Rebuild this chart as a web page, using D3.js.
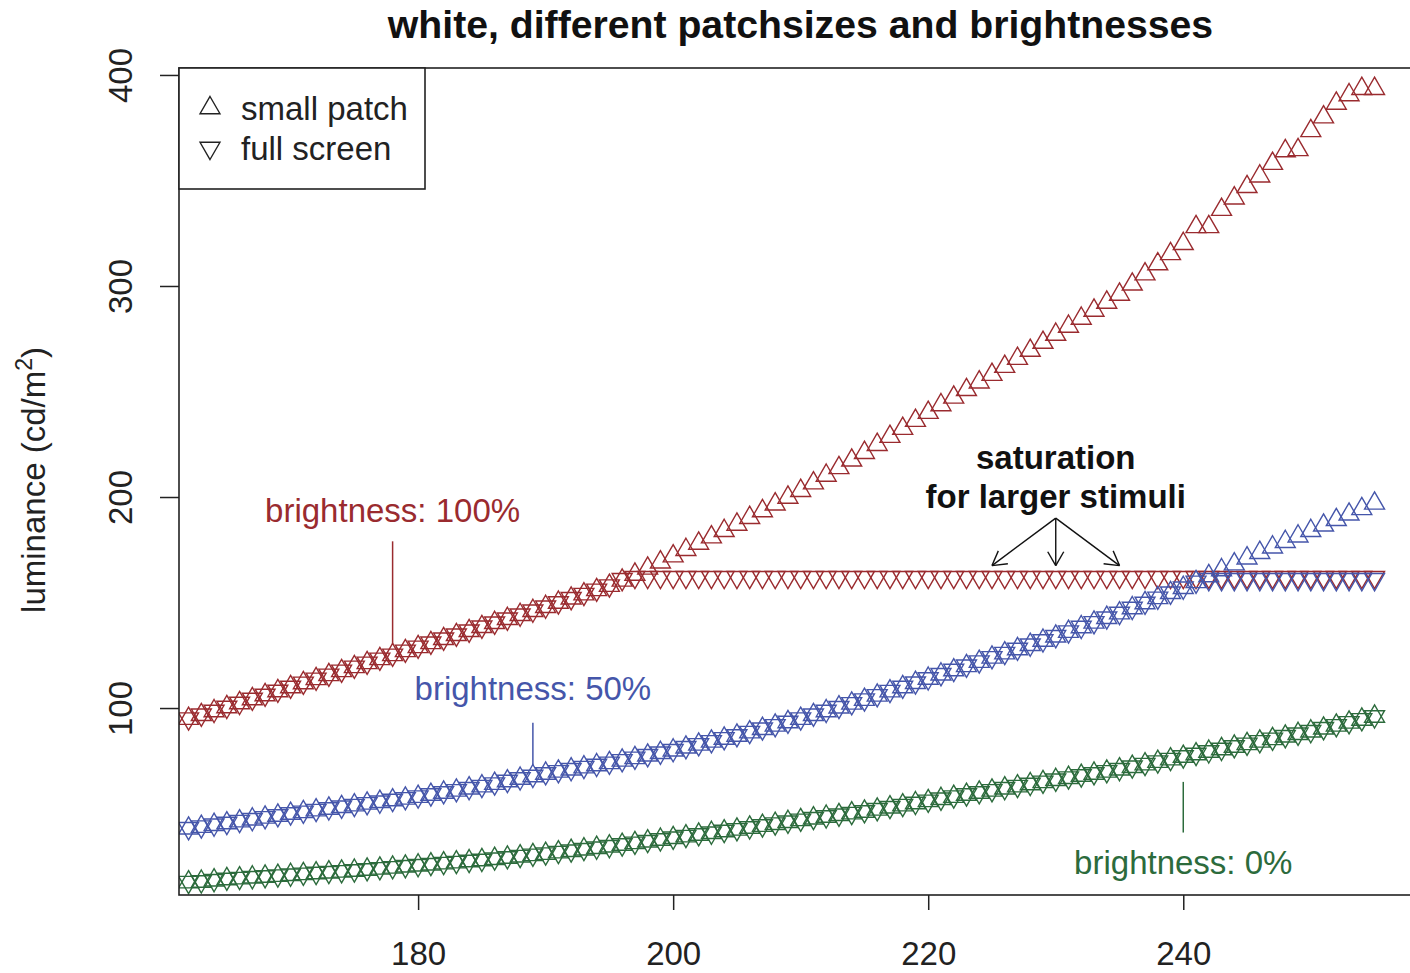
<!DOCTYPE html>
<html>
<head>
<meta charset="utf-8">
<script src="https://cdn.jsdelivr.net/npm/d3@7"></script>
<style>
  html, body { margin: 0; padding: 0; background: #fff; overflow: hidden; }
  text { font-family: "Liberation Sans", Arial, Helvetica, sans-serif; }
</style>
</head>
<body>
<svg id="chart" width="1410" height="973"></svg>
<script>
// Digital driving level of the white patch
const levels = [
  162, 163, 164, 165, 166, 167, 168, 169, 170, 171,
  172, 173, 174, 175, 176, 177, 178, 179, 180, 181,
  182, 183, 184, 185, 186, 187, 188, 189, 190, 191,
  192, 193, 194, 195, 196, 197, 198, 199, 200, 201,
  202, 203, 204, 205, 206, 207, 208, 209, 210, 211,
  212, 213, 214, 215, 216, 217, 218, 219, 220, 221,
  222, 223, 224, 225, 226, 227, 228, 229, 230, 231,
  232, 233, 234, 235, 236, 237, 238, 239, 240, 241,
  242, 243, 244, 245, 246, 247, 248, 249, 250, 251,
  252, 253, 254, 255
];

// Luminance (cd/m^2), brightness 100%
const red100Small = [
  95.0, 96.8, 98.6, 100.5, 102.4, 104.3, 106.2, 108.1, 110.0, 111.9,
  113.8, 115.7, 117.6, 119.5, 121.4, 123.3, 125.2, 127.1, 129.0, 130.9,
  132.8, 134.7, 136.6, 138.5, 140.4, 142.3, 144.2, 146.1, 148.0, 150.0,
  152.0, 154.0, 156.0, 158.0, 160.5, 163.3, 166.2, 169.1, 172.0, 175.0,
  178.0, 181.0, 184.0, 187.0, 190.2, 193.4, 196.6, 199.8, 203.0, 206.6,
  210.2, 213.8, 217.4, 221.0, 224.8, 228.6, 232.4, 236.2, 240.0, 243.6,
  247.2, 250.8, 254.4, 258.0, 261.8, 265.6, 269.4, 273.2, 277.0, 280.8,
  284.6, 288.4, 292.2, 296.0, 300.8, 305.6, 310.4, 315.2, 320.0, 328.0,
  328.0, 336.2, 341.6, 347.0, 352.0, 358.0, 364.0, 364.5, 373.5, 380.0,
  386.5, 390.5, 393.5, 393.5
];
const red100Full = [
  95.0, 96.8, 98.6, 100.5, 102.4, 104.3, 106.2, 108.1, 110.0, 111.9,
  113.8, 115.7, 117.6, 119.5, 121.4, 123.3, 125.2, 127.1, 129.0, 130.9,
  132.8, 134.7, 136.6, 138.5, 140.4, 142.3, 144.2, 146.1, 148.0, 150.0,
  152.0, 154.0, 156.0, 158.0, 161.0, 162.0, 162.0, 162.0, 162.0, 162.0,
  162.0, 162.0, 162.0, 162.0, 162.0, 162.0, 162.0, 162.0, 162.0, 162.0,
  162.0, 162.0, 162.0, 162.0, 162.0, 162.0, 162.0, 162.0, 162.0, 162.0,
  162.0, 162.0, 162.0, 162.0, 162.0, 162.0, 162.0, 162.0, 162.0, 162.0,
  162.0, 162.0, 162.0, 162.0, 162.0, 162.0, 162.0, 162.0, 162.0, 162.0,
  162.0, 162.0, 162.0, 162.0, 162.0, 162.0, 162.0, 162.0, 162.0, 162.0,
  162.0, 162.0, 162.0, 162.0
];

// Luminance (cd/m^2), brightness 50%
const blue50Small = [
  43.0, 43.8, 44.7, 45.5, 46.4, 47.3, 48.2, 49.1, 50.0, 50.8,
  51.6, 52.4, 53.2, 54.0, 54.8, 55.6, 56.4, 57.2, 58.0, 59.0,
  60.0, 61.0, 62.0, 63.0, 64.2, 65.4, 66.6, 67.8, 69.0, 70.0,
  71.0, 72.0, 73.0, 74.0, 75.2, 76.4, 77.6, 78.8, 80.0, 81.4,
  82.8, 84.2, 85.6, 87.0, 88.6, 90.2, 91.8, 93.4, 95.0, 96.8,
  98.6, 100.4, 102.2, 104.0, 106.0, 108.0, 110.0, 112.0, 114.0, 116.0,
  118.0, 120.0, 122.0, 124.0, 126.0, 128.0, 130.0, 132.0, 134.0, 136.2,
  138.4, 140.6, 142.8, 145.0, 147.4, 149.8, 152.2, 154.6, 157.0, 159.8,
  162.6, 165.4, 168.2, 171.0, 173.6, 176.2, 178.8, 181.4, 184.0, 186.6,
  189.2, 191.8, 194.4, 197.0
];
const blue50Full = [
  43.0, 43.8, 44.7, 45.5, 46.4, 47.3, 48.2, 49.1, 50.0, 50.8,
  51.6, 52.4, 53.2, 54.0, 54.8, 55.6, 56.4, 57.2, 58.0, 59.0,
  60.0, 61.0, 62.0, 63.0, 64.2, 65.4, 66.6, 67.8, 69.0, 70.0,
  71.0, 72.0, 73.0, 74.0, 75.2, 76.4, 77.6, 78.8, 80.0, 81.4,
  82.8, 84.2, 85.6, 87.0, 88.6, 90.2, 91.8, 93.4, 95.0, 96.8,
  98.6, 100.4, 102.2, 104.0, 106.0, 108.0, 110.0, 112.0, 114.0, 116.0,
  118.0, 120.0, 122.0, 124.0, 126.0, 128.0, 130.0, 132.0, 134.0, 136.2,
  138.4, 140.6, 142.8, 145.0, 147.4, 149.8, 152.2, 154.6, 157.0, 159.8,
  161.0, 161.0, 161.0, 161.0, 161.0, 161.0, 161.0, 161.0, 161.0, 161.0,
  161.0, 161.0, 161.0, 161.0
];

// Luminance (cd/m^2), brightness 0%
const green0Small = [
  17.5, 17.8, 18.4, 19.0, 19.4, 19.8, 20.2, 20.6, 21.0, 21.4,
  21.8, 22.2, 22.6, 23.0, 23.5, 24.0, 24.5, 25.0, 25.5, 26.0,
  26.5, 27.0, 27.5, 28.0, 28.6, 29.2, 29.8, 30.4, 31.0, 31.7,
  32.4, 33.1, 33.8, 34.5, 35.3, 36.1, 36.9, 37.7, 38.5, 39.3,
  40.1, 40.9, 41.7, 42.5, 43.4, 44.3, 45.2, 46.1, 47.0, 47.8,
  48.6, 49.4, 50.2, 51.0, 52.0, 53.0, 54.0, 55.0, 56.0, 57.0,
  58.0, 59.0, 60.0, 61.0, 62.0, 63.0, 64.0, 65.0, 66.0, 67.0,
  68.0, 69.0, 70.0, 71.0, 72.2, 73.4, 74.6, 75.8, 77.0, 78.2,
  79.4, 80.6, 81.8, 83.0, 84.2, 85.4, 86.6, 87.8, 89.0, 90.4,
  91.8, 93.2, 94.6, 96.0
];
const green0Full = [
  17.5, 17.8, 18.4, 19.0, 19.4, 19.8, 20.2, 20.6, 21.0, 21.4,
  21.8, 22.2, 22.6, 23.0, 23.5, 24.0, 24.5, 25.0, 25.5, 26.0,
  26.5, 27.0, 27.5, 28.0, 28.6, 29.2, 29.8, 30.4, 31.0, 31.7,
  32.4, 33.1, 33.8, 34.5, 35.3, 36.1, 36.9, 37.7, 38.5, 39.3,
  40.1, 40.9, 41.7, 42.5, 43.4, 44.3, 45.2, 46.1, 47.0, 47.8,
  48.6, 49.4, 50.2, 51.0, 52.0, 53.0, 54.0, 55.0, 56.0, 57.0,
  58.0, 59.0, 60.0, 61.0, 62.0, 63.0, 64.0, 65.0, 66.0, 67.0,
  68.0, 69.0, 70.0, 71.0, 72.2, 73.4, 74.6, 75.8, 77.0, 78.2,
  79.4, 80.6, 81.8, 83.0, 84.2, 85.4, 86.6, 87.8, 89.0, 90.4,
  91.8, 93.2, 94.6, 96.0
];

const xTicks = [180, 200, 220, 240];
const yTicks = [100, 200, 300, 400];
const legendLabels = ["small patch", "full screen"];

const RED = "#9a2b2f", BLUE = "#4556aa", GREEN = "#2c6b3c";

const series = [
  { values: red100Small, shape: "up", color: RED },
  { values: red100Full, shape: "down", color: RED },
  { values: blue50Small, shape: "up", color: BLUE },
  { values: blue50Full, shape: "down", color: BLUE },
  { values: green0Small, shape: "up", color: GREEN },
  { values: green0Full, shape: "down", color: GREEN }
];

const svg = d3.select("#chart");
const plot = { left: 179, right: 1422, top: 68, bottom: 895 };

const x = d3.scaleLinear().domain([161.25, 258.72]).range([plot.left, plot.right]);
const y = d3.scaleLinear().domain([11.4, 403.3]).range([plot.bottom, plot.top]);

// Open triangle symbols (point-up / point-down) with centroid at (cx, cy)
const RAD = 7.4;
function triangle(cx, cy, shape) {
  const r = 1.5551 * RAD, hx = 1.3468 * RAD, hy = 0.7776 * RAD;
  if (shape === "up") {
    return `M${cx},${cy - r}L${cx + hx},${cy + hy}L${cx - hx},${cy + hy}Z`;
  }
  return `M${cx},${cy + r}L${cx + hx},${cy - hy}L${cx - hx},${cy - hy}Z`;
}

svg.append("defs").append("clipPath").attr("id", "plotclip")
  .append("rect")
  .attr("x", plot.left).attr("y", plot.top)
  .attr("width", plot.right - plot.left).attr("height", plot.bottom - plot.top);

const marks = svg.append("g").attr("clip-path", "url(#plotclip)");
series.forEach(s => {
  marks.append("g")
    .selectAll("path")
    .data(levels.map((lv, i) => [lv, s.values[i]]))
    .join("path")
    .attr("d", d => triangle(x(d[0]), y(d[1]), s.shape))
    .attr("fill", "none")
    .attr("stroke", s.color)
    .attr("stroke-width", 1.4);
});

// Axes
const xAxis = svg.append("g")
  .attr("transform", `translate(0,${plot.bottom})`)
  .call(d3.axisBottom(x).tickValues(xTicks).tickSize(15).tickPadding(32).tickFormat(d3.format("d")));
xAxis.select(".domain").remove();
xAxis.selectAll("line").attr("stroke", "#222").attr("stroke-width", 1.5);
xAxis.selectAll("text")
  .attr("font-size", 33).attr("fill", "#222")
  .attr("font-family", "'Liberation Sans', Arial, sans-serif");

const yAxis = svg.append("g")
  .attr("transform", `translate(${plot.left},0)`)
  .call(d3.axisLeft(y).tickValues(yTicks).tickSize(19).tickFormat(d3.format("d")));
yAxis.select(".domain").remove();
yAxis.selectAll("line").attr("stroke", "#222").attr("stroke-width", 1.5);
yAxis.selectAll("text")
  .attr("font-size", 33).attr("fill", "#222")
  .attr("font-family", "'Liberation Sans', Arial, sans-serif")
  .attr("text-anchor", "middle")
  .attr("dy", 0)
  .attr("x", null)
  .attr("transform", "translate(-47,0) rotate(-90)");

// Plot frame
svg.append("rect")
  .attr("x", plot.left).attr("y", plot.top)
  .attr("width", plot.right - plot.left).attr("height", plot.bottom - plot.top)
  .attr("fill", "none").attr("stroke", "#222").attr("stroke-width", 1.6);

// Title
svg.append("text")
  .attr("x", (plot.left + plot.right) / 2).attr("y", 38)
  .attr("text-anchor", "middle")
  .attr("font-size", 39.2).attr("font-weight", "bold").attr("fill", "#111")
  .text("white, different patchsizes and brightnesses");

// Y axis title
const yTitle = svg.append("text")
  .attr("transform", "translate(45,480) rotate(-90)")
  .attr("text-anchor", "middle")
  .attr("font-size", 33).attr("fill", "#222");
yTitle.append("tspan").text("luminance (cd/m");
yTitle.append("tspan").attr("dy", -13).attr("font-size", 23).text("2");
yTitle.append("tspan").attr("dy", 13).text(")");

// Legend
const legend = svg.append("g");
legend.append("rect")
  .attr("x", plot.left).attr("y", plot.top)
  .attr("width", 246).attr("height", 121)
  .attr("fill", "#fff").attr("stroke", "#222").attr("stroke-width", 1.6);
["up", "down"].forEach((shape, i) => {
  const cy = 108 + i * 40;
  legend.append("path")
    .attr("d", triangle(210, cy, shape))
    .attr("fill", "none").attr("stroke", "#222").attr("stroke-width", 1.4);
  legend.append("text")
    .attr("x", 241).attr("y", cy + 12)
    .attr("font-size", 33).attr("fill", "#222")
    .text(legendLabels[i]);
});

// Brightness annotations: label plus a leader line down to the curve
const notes = [
  { text: "brightness: 100%", color: RED, lx: 178, ty: 188, y0: 179, y1: 130 },
  { text: "brightness: 50%", color: BLUE, lx: 189, ty: 104, y0: 93, y1: 73 },
  { text: "brightness: 0%", color: GREEN, lx: 240, ty: 21.5, y0: 65, y1: 41 }
];
notes.forEach(n => {
  svg.append("text")
    .attr("x", x(n.lx)).attr("y", y(n.ty))
    .attr("text-anchor", "middle")
    .attr("font-size", 33).attr("fill", n.color)
    .text(n.text);
  svg.append("line")
    .attr("x1", x(n.lx)).attr("x2", x(n.lx))
    .attr("y1", y(n.y0)).attr("y2", y(n.y1))
    .attr("stroke", n.color).attr("stroke-width", 1.5);
});

// Saturation note with three arrows
const satX = 230;
svg.append("text")
  .attr("x", x(satX)).attr("y", y(213.5))
  .attr("text-anchor", "middle").attr("font-size", 33).attr("font-weight", "bold").attr("fill", "#111")
  .text("saturation");
svg.append("text")
  .attr("x", x(satX)).attr("y", y(195))
  .attr("text-anchor", "middle").attr("font-size", 33).attr("font-weight", "bold").attr("fill", "#111")
  .text("for larger stimuli");

const arrowFrom = [satX, 190];
const arrowTargets = [225, 230, 235];
const arrows = svg.append("g").attr("stroke", "#111").attr("stroke-width", 1.4).attr("fill", "none");
arrowTargets.forEach(tx => {
  const x0 = x(arrowFrom[0]), y0 = y(arrowFrom[1]);
  const x1 = x(tx), y1 = y(167.5);
  arrows.append("line").attr("x1", x0).attr("y1", y0).attr("x2", x1).attr("y2", y1);
  const ang = Math.atan2(y1 - y0, x1 - x0);
  const len = 16, spread = Math.PI / 6;
  [ang + Math.PI - spread, ang + Math.PI + spread].forEach(a => {
    arrows.append("line")
      .attr("x1", x1).attr("y1", y1)
      .attr("x2", x1 + len * Math.cos(a)).attr("y2", y1 + len * Math.sin(a));
  });
});
</script>
</body>
</html>
